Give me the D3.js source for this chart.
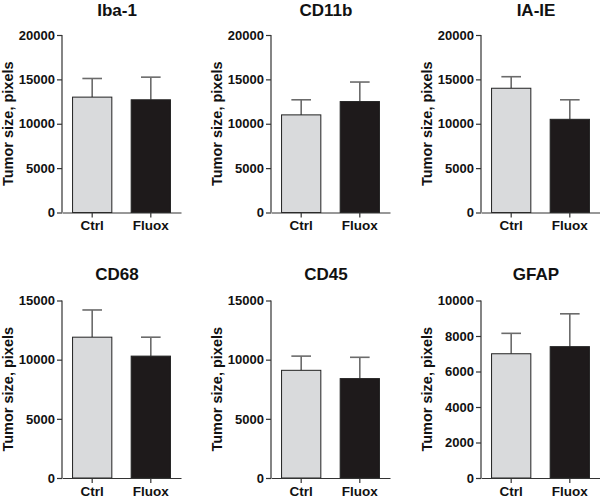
<!DOCTYPE html>
<html>
<head>
<meta charset="utf-8">
<script src="https://cdn.jsdelivr.net/npm/d3@7"></script>
<style>
  body { margin: 0; background: #fff; }
  svg text { font-family: "Liberation Sans", Arial, Helvetica, sans-serif; font-weight: bold; fill: #111; }
</style>
</head>
<body>
<div class="canvas"></div>
<script>
// data
const markers = ['Iba-1', 'CD11b', 'IA-IE', 'CD68', 'CD45', 'GFAP'];
const groups = ['Ctrl', 'Fluox'];
const ctrlMean = [13000, 11000, 14000, 11900, 9100, 7000];
const ctrlErr = [2100, 1700, 1300, 2300, 1200, 1150];
const fluoxMean = [12700, 12500, 10500, 10300, 8400, 7400];
const fluoxErr = [2550, 2200, 2200, 1600, 1800, 1850];
const yMax = [20000, 20000, 20000, 15000, 15000, 10000];
const yTicks = [
  [0, 5000, 10000, 15000, 20000],
  [0, 5000, 10000, 15000, 20000],
  [0, 5000, 10000, 15000, 20000],
  [0, 5000, 10000, 15000],
  [0, 5000, 10000, 15000],
  [0, 2000, 4000, 6000, 8000, 10000]
];
const yLabel = 'Tumor size, pixels';

const svg = d3.select('.canvas')
  .append('svg')
    .attr('width', 600)
    .attr('height', 499);

// panel placement
const colX = [62, 271, 481];
const rowTop = [35, 300.5];
const plotHeight = 177.5;
const plotWidth = 119;
const fills = ['#d9dadc', '#1e1a1b'];

markers.forEach((name, i) => {
  const col = i % 3;
  const row = Math.floor(i / 3);

  const graph = svg.append('g')
    .attr('transform', `translate(${colX[col]}, ${rowTop[row]})`);

  const y = d3.scaleLinear()
    .domain([0, yMax[i]])
    .range([plotHeight, 0]);

  const x = d3.scaleBand()
    .domain(groups)
    .range([0, plotWidth])
    .paddingInner(0.33)
    .paddingOuter(0.18);

  const rows = [
    {group: 'Ctrl', mean: ctrlMean[i], err: ctrlErr[i]},
    {group: 'Fluox', mean: fluoxMean[i], err: fluoxErr[i]}
  ];

  // error bars (upper only)
  const errs = graph.selectAll('g.err')
    .data(rows)
    .enter()
    .append('g')
      .attr('class', 'err')
      .attr('stroke', '#6b6b6b')
      .attr('stroke-width', 1.6);

  errs.append('line')
    .attr('x1', d => x(d.group) + x.bandwidth() / 2)
    .attr('x2', d => x(d.group) + x.bandwidth() / 2)
    .attr('y1', d => y(d.mean))
    .attr('y2', d => y(d.mean + d.err));

  errs.append('line')
    .attr('x1', d => x(d.group) + x.bandwidth() / 4)
    .attr('x2', d => x(d.group) + x.bandwidth() * 3 / 4)
    .attr('y1', d => y(d.mean + d.err))
    .attr('y2', d => y(d.mean + d.err));

  graph.selectAll('rect')
    .data(rows)
    .enter()
    .append('rect')
      .attr('x', d => x(d.group))
      .attr('y', d => y(d.mean))
      .attr('width', x.bandwidth())
      .attr('height', d => plotHeight - y(d.mean))
      .attr('fill', (d, j) => fills[j])
      .attr('stroke', '#222')
      .attr('stroke-width', 1);

  // axes
  const yAxisGroup = graph.append('g')
    .call(d3.axisLeft(y).tickValues(yTicks[i]).tickSize(5).tickPadding(2).tickFormat(d3.format('d')));

  const xAxisGroup = graph.append('g')
    .attr('transform', `translate(0, ${plotHeight})`)
    .call(d3.axisBottom(x).tickSize(5).tickPadding(3).tickSizeOuter(0));

  [yAxisGroup, xAxisGroup].forEach(ax => {
    ax.attr('font-family', null);
    ax.select('.domain').attr('stroke', '#333').attr('stroke-width', 1.2);
    ax.selectAll('.tick line').attr('stroke', '#333').attr('stroke-width', 1.2);
  });
  yAxisGroup.select('.domain').attr('d', `M0,0V${plotHeight}`);

  yAxisGroup.attr('font-size', 13);
  yAxisGroup.selectAll('text')
    .attr('fill', '#111');

  xAxisGroup.attr('font-size', 13.5);
  xAxisGroup.selectAll('text')
    .attr('fill', '#111');

  // title
  graph.append('text')
    .attr('x', 55)
    .attr('y', row === 0 ? -19.5 : -20.5)
    .attr('text-anchor', 'middle')
    .attr('font-size', 17)
    .text(name);

  // y label
  graph.append('text')
    .attr('transform', `translate(-49, ${plotHeight / 2}) rotate(-90)`)
    .attr('text-anchor', 'middle')
    .attr('font-size', 14.5)
    .text(yLabel);
});
</script>
</body>
</html>
